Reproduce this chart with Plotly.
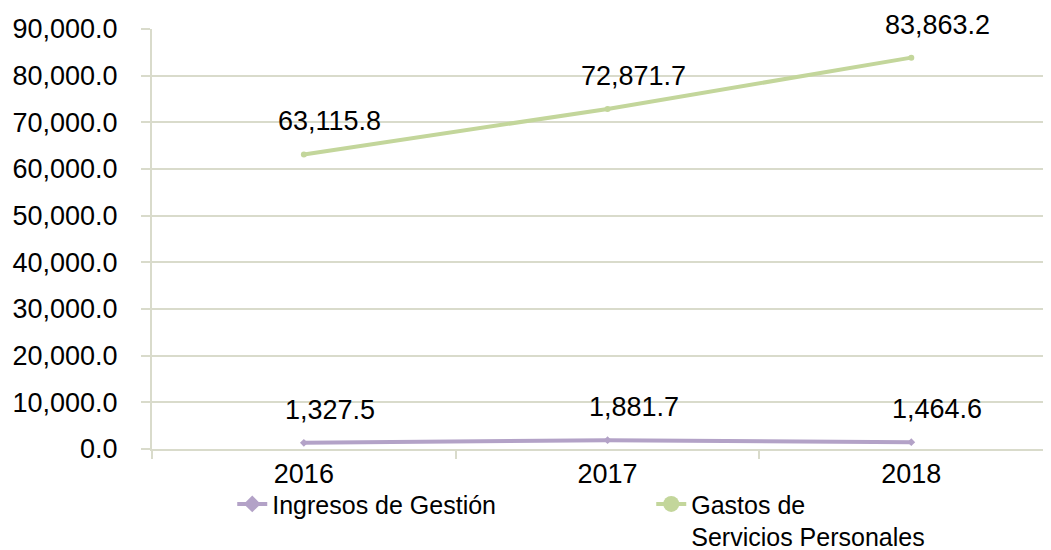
import plotly.graph_objects as go

# data
years = ["2016", "2017", "2018"]
ingresos = [1327.5, 1881.7, 1464.6]
gastos = [63115.8, 72871.7, 83863.2]
y_ticks = [0, 10000, 20000, 30000, 40000, 50000, 60000, 70000, 80000, 90000]

PURPLE = "#B3A2C7"
GREEN = "#C3D69B"
GRID = "#D9DBCB"
FONT = dict(family="Liberation Sans, Arial, sans-serif", size=27, color="#000000")

series = [
    ("Ingresos de Gestión", ingresos, PURPLE, "diamond", 13),
    ("Gastos de<br>Servicios Personales", gastos, GREEN, "circle", 16),
]

fig = go.Figure()
for name, vals, col, sym, lsize in series:
    # the line itself, with small markers like the original
    fig.add_trace(go.Scatter(
        x=years, y=vals, name=name, mode="lines+markers", legendgroup=name,
        showlegend=False, line=dict(color=col, width=4),
        marker=dict(symbol=sym, size=6, color=col)))
    # legend entry with the bigger symbol
    fig.add_trace(go.Scatter(
        x=[years[0]], y=[None], name=name, mode="lines+markers", legendgroup=name,
        line=dict(color=col, width=4),
        marker=dict(symbol=sym, size=lsize, color=col)))

# data labels, a bit above and right of each point
for _, vals, _, _, _ in series:
    for i, v in enumerate(vals):
        fig.add_annotation(x=i, y=v, xref="x", yref="y", text=f"{v:,.1f}",
                           showarrow=False, xshift=26, yshift=33,
                           font=dict(family=FONT["family"], size=27, color="#000000"))

fig.update_xaxes(
    type="category", range=[-0.5, 2.46], tickson="boundaries",
    ticks="outside", ticklen=8, tickcolor=GRID, tickwidth=2,
    showline=True, linecolor=GRID, linewidth=2, showgrid=False,
    tickfont=FONT, automargin=False)
fig.update_yaxes(
    range=[0, 90000], tickvals=y_ticks, tickformat=",.1f",
    ticks="outside", ticklen=9, tickcolor=GRID, tickwidth=2,
    showline=True, linecolor=GRID, linewidth=2,
    showgrid=True, gridcolor=GRID, gridwidth=2, zeroline=False,
    ticklabelstandoff=18, tickfont=FONT, automargin=False)

# page body has an 8px margin, so the figure is a bit smaller and shifted
fig.update_layout(
    width=1043, height=542,
    margin=dict(l=144, r=0, t=21, b=101),
    plot_bgcolor="#FFFFFF", paper_bgcolor="#FFFFFF",
    font=FONT,
    legend=dict(orientation="h", x=0.215, xref="container", xanchor="left",
                y=0.127, yref="container", yanchor="top",
                entrywidth=374, entrywidthmode="pixels", valign="top",
                font=dict(family=FONT["family"], size=25, color="#000000"),
                bgcolor="rgba(0,0,0,0)"),
)

fig.write_html("out.html")
